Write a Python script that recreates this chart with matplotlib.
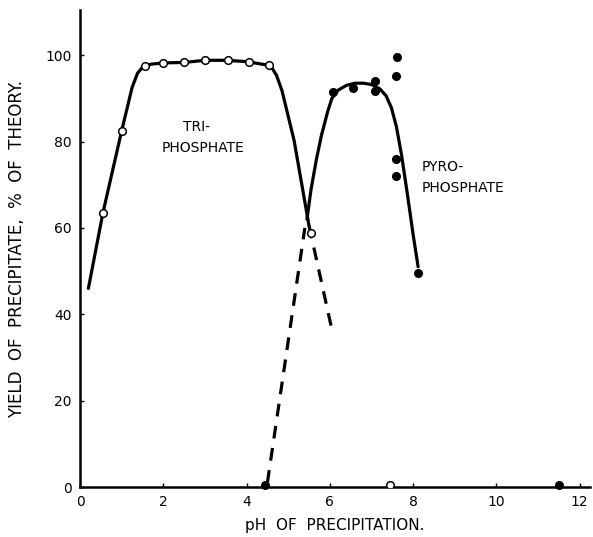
import matplotlib
matplotlib.use('Agg')
import matplotlib.pyplot as plt

# open circles - triphosphate
tri_ph = [0.55, 1.0, 1.55, 2.0, 2.5, 3.0, 3.55, 4.05, 4.55, 5.55, 7.45]
tri_y = [63.5, 82.5, 97.5, 98.2, 98.3, 98.8, 98.8, 98.5, 97.7, 58.9, 0.5]

# filled circles - pyrophosphate
pyro_ph = [6.07, 6.55, 7.08, 7.08, 7.6, 7.62, 7.58, 7.58, 8.12, 4.45, 11.5]
pyro_y = [91.4, 92.5, 94.1, 91.7, 95.2, 99.5, 75.9, 72.0, 49.5, 0.5, 0.5]

# hand drawn curves
tri_curve_x = [0.2, 0.55, 1.0, 1.25, 1.38, 1.5, 1.7, 2.0, 2.5, 3.0, 3.5, 4.0, 4.5,
               4.62, 4.72, 4.85, 5.14, 5.5]
tri_curve_y = [46, 63.5, 82.5, 92.5, 95.8, 97.2, 97.9, 98.2, 98.3, 98.8, 98.8, 98.5, 97.7,
               96.9, 95.3, 91.8, 80.3, 60.5]
tri_dash_x = [5.5, 6.06]
tri_dash_y = [60.5, 36]

pyro_curve_x = [5.45, 5.55, 5.68, 5.8, 5.95, 6.05, 6.2, 6.4, 6.6, 6.8, 7.0, 7.2, 7.35, 7.48,
                7.6, 7.72, 7.86, 8.0, 8.12]
pyro_curve_y = [62, 69, 76, 81.5, 87, 90, 91.9, 93.0, 93.5, 93.5, 93.2, 92.2, 90.6, 87.8,
                83.4, 77, 68, 58.5, 51]
pyro_dash_x = [4.5, 5.4]
pyro_dash_y = [1, 60]

xticks = [0, 2, 4, 6, 8, 10, 12]
yticks = [0, 20, 40, 60, 80, 100]

fig = plt.figure(figsize=(5.93, 5.37), dpi=100)
ax = fig.add_axes([0.135, 0.093, 0.86, 0.888])

ax.plot(tri_curve_x, tri_curve_y, color='black', lw=2.3, solid_capstyle='round',
        solid_joinstyle='round')
ax.plot(pyro_curve_x, pyro_curve_y, color='black', lw=2.3, solid_capstyle='round',
        solid_joinstyle='round')
ax.plot(tri_dash_x, tri_dash_y, color='black', lw=2.3, dashes=(4, 3))
ax.plot(pyro_dash_x, pyro_dash_y, color='black', lw=2.3, dashes=(4, 3))

ax.plot(tri_ph, tri_y, 'o', ms=5.5, mfc='white', mec='black', mew=1.1, ls='none', zorder=5)
ax.plot(pyro_ph, pyro_y, 'o', ms=5.5, color='black', ls='none', zorder=5, clip_on=False)

ax.text(2.8, 83.3, 'TRI-', ha='center', va='center', fontsize=10)
ax.text(2.95, 78.5, 'PHOSPHATE', ha='center', va='center', fontsize=10)
ax.text(8.2, 74, 'PYRO-', ha='left', va='center', fontsize=10)
ax.text(8.2, 69.2, 'PHOSPHATE', ha='left', va='center', fontsize=10)

ax.set_xlim(0, 12.25)
ax.set_ylim(0, 110.4)
ax.set_xticks(xticks)
ax.set_yticks(yticks)
ax.tick_params(direction='in', length=3, width=1, labelsize=10, pad=6)
ax.spines['top'].set_visible(False)
ax.spines['right'].set_visible(False)
ax.spines['left'].set_linewidth(1.8)
ax.spines['bottom'].set_linewidth(1.8)

ax.set_xlabel('pH  OF  PRECIPITATION.', fontsize=11, labelpad=6)
ax.set_ylabel('YIELD  OF  PRECIPITATE,  %  OF  THEORY.', fontsize=12, labelpad=14)

fig.savefig('out.png', dpi=100)
